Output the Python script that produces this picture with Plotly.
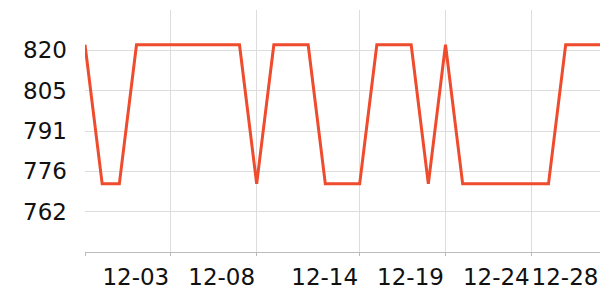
import plotly.graph_objects as go

dates = ["11-28", "11-29", "11-30", "12-01", "12-02", "12-03", "12-04", "12-05",
         "12-06", "12-07", "12-08", "12-09", "12-10", "12-11", "12-12", "12-13",
         "12-14", "12-15", "12-16", "12-17", "12-18", "12-19", "12-20", "12-21",
         "12-22", "12-23", "12-24", "12-25", "12-26", "12-27", "12-28"]
values = [822, 772, 772, 822, 822, 822, 822, 822, 822, 822, 772, 822, 822, 822,
          772, 772, 772, 822, 822, 822, 772, 822, 772, 772, 772, 772, 772, 772,
          822, 822, 822]

x_tick_vals = ["11-28", "12-03", "12-08", "12-14", "12-19", "12-24", "12-28"]
x_tick_text = ["", "12-03", "12-08", "12-14", "12-19", "12-24", "12-28"]
y_tick_vals = [762, 776.5, 791, 805.5, 820]
y_tick_text = ["762", "776", "791", "805", "820"]

fig = go.Figure(go.Scatter(
    x=dates, y=values, mode="lines",
    line=dict(color="#ef4b2d", width=3),
))

fig.update_layout(
    width=600, height=300,
    margin=dict(l=85, r=0, t=10, b=48),
    paper_bgcolor="white", plot_bgcolor="white",
    showlegend=False,
    font=dict(family="DejaVu Sans", size=23, color="#111111"),
)
fig.update_xaxes(
    type="category", range=[0, 30],
    tickmode="array", tickvals=x_tick_vals, ticktext=x_tick_text,
    tickangle=0, automargin=False,
    showgrid=True, gridcolor="#dddddd", gridwidth=1,
    showline=True, linecolor="#bbbbbb", linewidth=1,
    ticks="outside", ticklen=3, tickcolor="#bbbbbb",
    ticklabelshift=-35, ticklabelstandoff=1,
    zeroline=False,
)
fig.update_yaxes(
    range=[747.5, 834.5], automargin=False,
    tickmode="array", tickvals=y_tick_vals, ticktext=y_tick_text,
    showgrid=True, gridcolor="#dddddd", gridwidth=1,
    showline=False, zeroline=False, ticks="",
    ticklabelstandoff=17,
)

fig.write_html("out.html")
